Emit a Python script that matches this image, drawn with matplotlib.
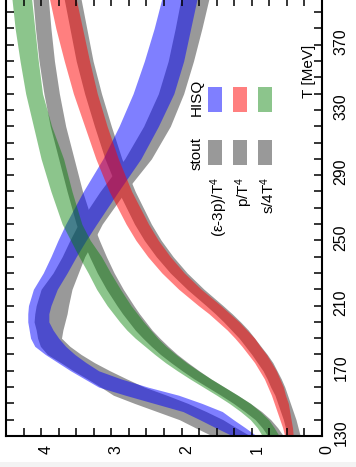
import numpy as np
import matplotlib
matplotlib.use('Agg')
import matplotlib.pyplot as plt
from matplotlib.patches import Rectangle
from matplotlib.ticker import MultipleLocator, FixedLocator
from matplotlib.transforms import ScaledTranslation

plt.rcParams['font.family'] = ['Liberation Sans', 'DejaVu Sans']
plt.rcParams['mathtext.fontset'] = 'custom'
plt.rcParams['mathtext.rm'] = 'Liberation Sans'
plt.rcParams['mathtext.default'] = 'regular'

# temperature grid (MeV)
T = np.array([130, 135, 140, 145, 150, 155, 160, 165, 170, 175, 180, 185, 190,
              195, 200, 205, 210, 220, 230, 240, 250, 260, 280, 300, 320, 340,
              360, 380, 400])

# trace anomaly (e-3p)/T^4
ia_hisq = np.array([1.10, 1.30, 1.50, 1.70, 2.05, 2.42, 2.83, 3.12, 3.38, 3.56,
                    3.73, 3.87, 3.95, 4.00, 4.04, 4.04, 4.02, 3.94, 3.80, 3.68,
                    3.56, 3.43, 3.15, 2.85, 2.61, 2.40, 2.25, 2.13, 2.02])
ia_hisq_err = np.array([0.17, 0.21, 0.24, 0.28, 0.34, 0.38, 0.35, 0.26, 0.20, 0.20,
                        0.21, 0.22, 0.20, 0.17, 0.15, 0.15, 0.16, 0.17, 0.17, 0.18,
                        0.20, 0.22, 0.25, 0.27, 0.28, 0.29, 0.28, 0.26, 0.25])
ia_stout = np.array([1.29, 1.51, 1.72, 2.00, 2.29, 2.59, 2.84, 3.06, 3.28, 3.48,
                     3.67, 3.80, 3.88, 3.88, 3.88, 3.86, 3.84, 3.78, 3.65, 3.54,
                     3.42, 3.30, 2.98, 2.62, 2.35, 2.15, 2.01, 1.90, 1.80])
ia_stout_err = np.array([0.27, 0.29, 0.31, 0.35, 0.38, 0.38, 0.31, 0.28, 0.26, 0.24,
                         0.24, 0.21, 0.17, 0.19, 0.22, 0.23, 0.23, 0.22, 0.18, 0.16,
                         0.17, 0.17, 0.18, 0.19, 0.19, 0.18, 0.18, 0.19, 0.20])

# pressure p/T^4
p_hisq = np.array([0.47, 0.49, 0.52, 0.55, 0.58, 0.62, 0.66, 0.71, 0.77, 0.84,
                   0.92, 1.01, 1.10, 1.21, 1.33, 1.46, 1.60, 1.88, 2.12, 2.32,
                   2.49, 2.63, 2.87, 3.06, 3.22, 3.37, 3.49, 3.60, 3.70])
p_hisq_err = np.array([0.06, 0.07, 0.08, 0.09, 0.10, 0.10, 0.11, 0.11, 0.12, 0.12,
                       0.13, 0.13, 0.14, 0.14, 0.15, 0.15, 0.16, 0.16, 0.16, 0.16,
                       0.16, 0.16, 0.16, 0.16, 0.16, 0.17, 0.18, 0.19, 0.19])
p_stout = np.array([0.40, 0.43, 0.46, 0.50, 0.54, 0.58, 0.63, 0.68, 0.74, 0.81,
                    0.89, 0.98, 1.07, 1.17, 1.28, 1.40, 1.53, 1.80, 2.04, 2.24,
                    2.41, 2.55, 2.78, 2.97, 3.12, 3.26, 3.38, 3.47, 3.56])
p_stout_err = np.array([0.09, 0.09, 0.09, 0.09, 0.09, 0.09, 0.10, 0.10, 0.10, 0.11,
                        0.11, 0.11, 0.11, 0.12, 0.12, 0.12, 0.12, 0.12, 0.12, 0.12,
                        0.12, 0.12, 0.12, 0.12, 0.12, 0.12, 0.12, 0.12, 0.12])

# entropy density s/4T^4
s_hisq = np.array([0.73, 0.80, 0.89, 1.02, 1.17, 1.35, 1.54, 1.73, 1.91, 2.08,
                   2.23, 2.37, 2.50, 2.61, 2.71, 2.80, 2.89, 3.04, 3.17, 3.30,
                   3.44, 3.56, 3.71, 3.84, 3.98, 4.10, 4.17, 4.23, 4.28])
s_hisq_err = np.array([0.12, 0.12, 0.13, 0.14, 0.15, 0.15, 0.15, 0.15, 0.15, 0.15,
                       0.15, 0.15, 0.16, 0.17, 0.17, 0.17, 0.17, 0.17, 0.16, 0.16,
                       0.14, 0.14, 0.15, 0.16, 0.13, 0.12, 0.13, 0.14, 0.14])
s_stout = np.array([0.66, 0.74, 0.84, 0.98, 1.14, 1.32, 1.51, 1.70, 1.87, 2.03,
                    2.18, 2.31, 2.43, 2.54, 2.63, 2.72, 2.80, 2.95, 3.08, 3.19,
                    3.29, 3.38, 3.52, 3.64, 3.76, 3.85, 3.92, 3.97, 4.01])
s_stout_err = np.array([0.11, 0.11, 0.11, 0.12, 0.12, 0.12, 0.12, 0.12, 0.12, 0.12,
                        0.12, 0.12, 0.12, 0.12, 0.12, 0.12, 0.12, 0.12, 0.12, 0.12,
                        0.12, 0.12, 0.11, 0.11, 0.11, 0.11, 0.11, 0.11, 0.11])

labels = ['(ε-3p)/T$^4$', 'p/T$^4$', 's/4T$^4$']
colors = ['#0000ff', '#ff0000', '#008000']
alphas = [0.5, 0.5, 0.45]
stout_color = '#999999'

x_ticks = [0, 1, 2, 3, 4]
t_ticks = [130, 170, 210, 250, 290, 330, 370]

fig = plt.figure(figsize=(3.56, 4.67), dpi=100)
ax = fig.add_axes([6 / 356, 31 / 467, 316 / 356, 438.5 / 467])

# the plot is drawn turned on its side: value runs right-to-left, T upwards
hisq = [(ia_hisq, ia_hisq_err), (p_hisq, p_hisq_err), (s_hisq, s_hisq_err)]
stout = [(ia_stout, ia_stout_err), (p_stout, p_stout_err), (s_stout, s_stout_err)]
for val, err in stout:
    ax.fill_betweenx(T, val - err, val + err, color=stout_color, lw=0)
for (val, err), col, a in zip(hisq, colors, alphas):
    ax.fill_betweenx(T, val - err, val + err, color=col, alpha=a, lw=0)

ax.set_xlim(4.5, 0)
ax.set_ylim(130, 399)
ax.xaxis.set_major_locator(FixedLocator(x_ticks))
ax.xaxis.set_minor_locator(MultipleLocator(0.25))
ax.yaxis.set_major_locator(FixedLocator(t_ticks))
ax.yaxis.set_minor_locator(MultipleLocator(10))
ax.tick_params(which='both', direction='in', top=True, right=True,
               length=5.5, width=1.1, labelbottom=False, labelleft=False)
for sp in ax.spines.values():
    sp.set_linewidth(1.5)

# tick labels, turned with the plot
off = ScaledTranslation(0.05, -0.14, fig.dpi_scale_trans)
for v in x_ticks:
    ax.text(v, 0, str(v), transform=ax.get_xaxis_transform() + off,
            rotation=90, ha='center', va='center', fontsize=11.5)
off = ScaledTranslation(0.19, 0.03, fig.dpi_scale_trans)
for t in t_ticks:
    ax.text(1, t, str(t), transform=ax.get_yaxis_transform() + off,
            rotation=90, ha='center', va='center', fontsize=11.5)
ax.text(0.96, 0.831, 'T [MeV]', transform=ax.transAxes, rotation=90,
        ha='center', va='center', fontsize=11)

# legend: stout and HISQ columns
ax.text(0.604, 0.773, 'HISQ', transform=ax.transAxes, rotation=90,
        ha='center', va='center', fontsize=11)
ax.text(0.604, 0.645, 'stout', transform=ax.transAxes, rotation=90,
        ha='center', va='center', fontsize=11)
px = [0.639, 0.718, 0.797]
lx = [0.674, 0.753, 0.829]
for x0, xl, col, a, lab in zip(px, lx, colors, alphas, labels):
    ax.add_patch(Rectangle((x0, 0.739), 0.044, 0.057, transform=ax.transAxes,
                           color=col, alpha=a, lw=0))
    ax.add_patch(Rectangle((x0, 0.618), 0.044, 0.057, transform=ax.transAxes,
                           color=stout_color, lw=0))
    ax.text(xl, 0.591, lab, transform=ax.transAxes, rotation=90,
            ha='center', va='top', fontsize=11)

fig.add_artist(Rectangle((0, 0), 1, 5 / 467, transform=fig.transFigure,
                         color='#f3f3f3', lw=0))

fig.savefig('out.png', dpi=100)
